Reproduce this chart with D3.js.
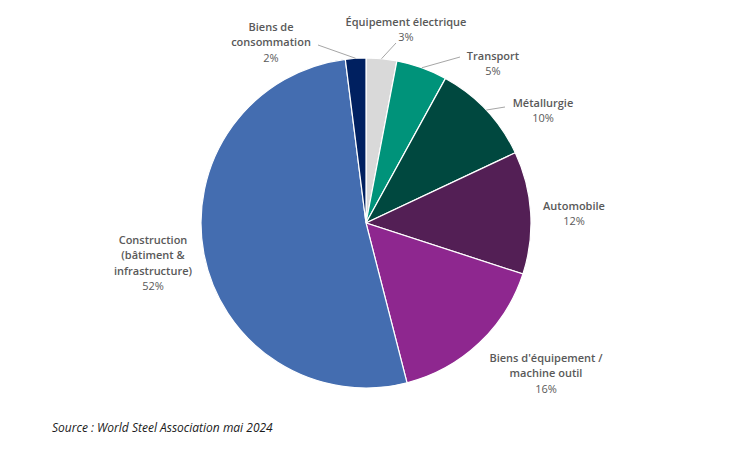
<!DOCTYPE html>
<html><head><meta charset="utf-8">
<script src="https://cdn.jsdelivr.net/npm/d3@7"></script>
<style>
body{margin:0;background:#fff;}
svg{display:block;font-family:"Open Sans",sans-serif;}
</style></head>
<body><svg id="c" width="747" height="453"></svg>
<script>
const categories = ["Équipement électrique","Transport","Métallurgie","Automobile","Biens d'équipement / machine outil","Construction (bâtiment & infrastructure)","Biens de consommation"];
const values = [3,5,10,12,16,52,2];
const labelLines = [["Équipement électrique"],["Transport"],["Métallurgie"],["Automobile"],["Biens d'équipement /","machine outil"],["Construction","(bâtiment &","infrastructure)"],["Biens de","consommation"]];
const colors = ["#d9d9d9","#00937a","#00483f","#531f55","#8e278f","#446db0","#002060"];
const source = "Source : World Steel Association mai 2024";

// layout (label centre x offset / first baseline offset from pie centre, and leader end offsets)
const layout = [
  {dx:40, dy:-197, lead:[30,-180]},
  {dx:127, dy:-163, lead:[94,-166]},
  {dx:177, dy:-116, lead:[139,-116]},
  {dx:208, dy:-13},
  {dx:180, dy:139},
  {dx:-213, dy:21},
  {dx:-95, dy:-192, lead:[-48,-178]}
];

const svg = d3.select("#c");
const cx = 366, cy = 223, R = 165;
const g = svg.append("g").attr("transform",`translate(${cx},${cy})`);
const pie = d3.pie().sort(null).value(d=>d)(values);
const arc = d3.arc().innerRadius(0).outerRadius(R);
g.selectAll("path.s").data(pie).join("path").attr("class","s")
  .attr("d",arc).attr("fill",(d,i)=>colors[i]).attr("stroke","#fff").attr("stroke-width",1.2);

pie.forEach((d,i)=>{
  const L = layout[i];
  const a = (d.startAngle+d.endAngle)/2;
  if(L.lead){
    g.append("line").attr("x1",Math.sin(a)*R).attr("y1",-Math.cos(a)*R)
      .attr("x2",L.lead[0]).attr("y2",L.lead[1]).attr("stroke","#a6a6a6").attr("stroke-width",1);
  }
  const lines = labelLines[i];
  const lh = 15.4;
  const t = g.append("text").attr("text-anchor","middle").attr("font-size",11).attr("fill","#595959");
  lines.forEach((s,k)=>{
    t.append("tspan").attr("x",L.dx).attr("y",L.dy+k*lh).attr("font-weight",600).text(s);
  });
  t.append("tspan").attr("x",L.dx).attr("y",L.dy+lines.length*lh).text(d.data+"%");
});

svg.append("text").attr("x",52).attr("y",432).attr("font-size",12).attr("font-style","italic")
  .attr("fill","#1a1a1a").text(source);
</script></body></html>
